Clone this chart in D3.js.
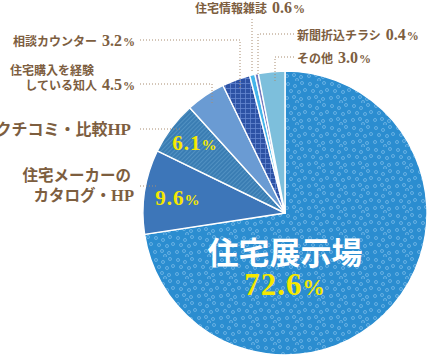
<!DOCTYPE html>
<html><head><meta charset="utf-8">
<script src="https://cdn.jsdelivr.net/npm/d3@7/dist/d3.min.js"></script>
<style>
html,body{margin:0;padding:0;background:#fff;}
svg{display:block;}
</style></head>
<body>
<svg id="chart" width="429" height="357"></svg>
<script>
// ---- data ----
const categories = ["住宅展示場","住宅メーカーのカタログ・HP","クチコミ・比較HP","住宅購入を経験している知人","相談カウンター","住宅情報雑誌","新聞折込チラシ","その他"];
const values = [72.6, 9.6, 6.1, 4.5, 3.2, 0.6, 0.4, 3.0];
const labelLines = [["住宅展示場"],["住宅メーカーの","カタログ・HP"],["クチコミ・比較HP"],["住宅購入を経験","している知人"],["相談カウンター"],["住宅情報雑誌"],["新聞折込チラシ"],["その他"]];

// ---- style / layout ----
const fills = ["url(#pDots)","#3d76b9","url(#pHatch)","#6a9bd3","url(#pGrid)","#45b5ea","#7579be","#7dbfdc"];
const brown = "#7d5e3f";
const lead = "#a88c70";
const yellow = "#f6e800";
const cx = 285, cy = 213, R = 142;
const CJK = "'Noto Sans CJK JP','Noto Sans',sans-serif";
const SERIF = "'Liberation Serif','DejaVu Serif',serif";

const svg = d3.select("#chart");
const defs = svg.append("defs");

// dots pattern
const pd = defs.append("pattern").attr("id","pDots").attr("patternUnits","userSpaceOnUse").attr("width",22).attr("height",22);
pd.append("rect").attr("width",22).attr("height",22).attr("fill","#2b8dd0");
[[3,3],[10,5],[17,2],[6,10],[14,11],[20,9],[2,17],[9,16],[16,18],[12,21]].forEach(p=>{
  pd.append("circle").attr("cx",p[0]).attr("cy",p[1]).attr("r",1.5).attr("fill","none").attr("stroke","#74b8e6").attr("stroke-width",0.8);
});
// hatch pattern
const ph = defs.append("pattern").attr("id","pHatch").attr("patternUnits","userSpaceOnUse").attr("width",3).attr("height",3).attr("patternTransform","rotate(45)");
ph.append("rect").attr("width",3).attr("height",3).attr("fill","#3a7db3");
ph.append("line").attr("x1",0).attr("y1",0).attr("x2",0).attr("y2",3).attr("stroke","#67a5d2").attr("stroke-width",1);
// grid pattern
const pg = defs.append("pattern").attr("id","pGrid").attr("patternUnits","userSpaceOnUse").attr("width",5).attr("height",5);
pg.append("rect").attr("width",5).attr("height",5).attr("fill","#2d52a5");
pg.append("path").attr("d","M0,0.5H5M0.5,0V5").attr("stroke","#6486cf").attr("stroke-width",0.8).attr("fill","none");

const pie = d3.pie().sort(null).value(d=>d)(values);
const arc = d3.arc().innerRadius(0).outerRadius(R);

const g = svg.append("g").attr("transform",`translate(${cx},${cy})`);
g.selectAll("path.slice").data(pie).join("path").attr("class","slice")
  .attr("d",arc).attr("fill",(d,i)=>fills[i])
  .attr("stroke","#fff").attr("stroke-width",1.4).attr("stroke-linejoin","round");

const fmt = d3.format(".1f");

// ---- outside labels layout (positions only) ----
const outLayout = {
  1:{fs:15.5, anchor:"end", lines:[[131,175],[134,195]], pctLine:null, leader:[140,186,156,186]},
  2:{fs:16, anchor:"end", lines:[[131,129]], pctLine:null, leader:[140,129,180,129]},
  3:{fs:12, anchor:"mixed", lines:[[10,71,"start"],[135,86,"end"]], pctLine:1, leader:[140,84,212,105]},
  4:{fs:12, anchor:"end", lines:[[135,42]], pctLine:0, leader:[140,40,240,88]},
  5:{fs:12, anchor:"start", lines:[[195,9]], pctLine:0, leader:[252,19,252,73]},
  6:{fs:12, anchor:"start", lines:[[297,36]], pctLine:0, leader:[294,34,258,74]},
  7:{fs:12, anchor:"start", lines:[[297,59]], pctLine:0, leader:[294,57,275,82]}
};

const lbl = svg.append("g");
Object.keys(outLayout).forEach(k=>{
  const i = +k, L = outLayout[k];
  const [x1,y1,x2,y2] = L.leader;
  lbl.append("path").attr("d",`M${x1},${y1}H${x2}V${y2}`)
    .attr("fill","none").attr("stroke",lead).attr("stroke-width",1).attr("stroke-dasharray","1,2");
  labelLines[i].forEach((txt,li)=>{
    const pos = L.lines[li];
    const anchor = pos[2] || L.anchor;
    const t = lbl.append("text").attr("x",pos[0]).attr("y",pos[1]).attr("dy","0.36em")
      .attr("text-anchor",anchor).attr("fill",brown)
      .style("font-family",CJK).style("font-weight",700).style("font-size",L.fs+"px");
    const m = txt.match(/^(.*?)(HP)?$/);
    t.append("tspan").text(m[1]);
    if (m[2]) t.append("tspan").style("font-family",SERIF).style("font-size",(L.fs+1)+"px").text(m[2]);
    if (L.pctLine === li) {
      t.append("tspan").style("font-family",SERIF).style("font-size","16px").attr("dx",5).text(fmt(values[i]));
      t.append("tspan").style("font-family",SERIF).style("font-size","12px").attr("dx",1).text("%");
    }
  });
});

// ---- inside labels ----
const inLayout = {
  0:{name:[285,253], pct:[285,295], fs:31},
  1:{pct:[178,205], fs:21},
  2:{pct:[195,150], fs:21}
};
Object.keys(inLayout).forEach(k=>{
  const i=+k, L=inLayout[k];
  if (L.name) {
    svg.append("text").attr("x",L.name[0]).attr("y",L.name[1]).attr("dy","0.36em")
      .attr("text-anchor","middle").attr("fill","#fff")
      .style("font-family",CJK).style("font-weight",700).style("font-size","31px").text(labelLines[i][0]);
  }
  const t = svg.append("text").attr("x",L.pct[0]).attr("y",L.pct[1]).attr("text-anchor","middle")
    .attr("fill",yellow).style("font-family",SERIF).style("font-weight",700).style("font-size",L.fs+"px")
    .style("letter-spacing","1px");
  t.append("tspan").text(fmt(values[i]));
  t.append("tspan").style("font-size",(L.fs*0.72)+"px").text("%");
});
</script>
</body></html>
